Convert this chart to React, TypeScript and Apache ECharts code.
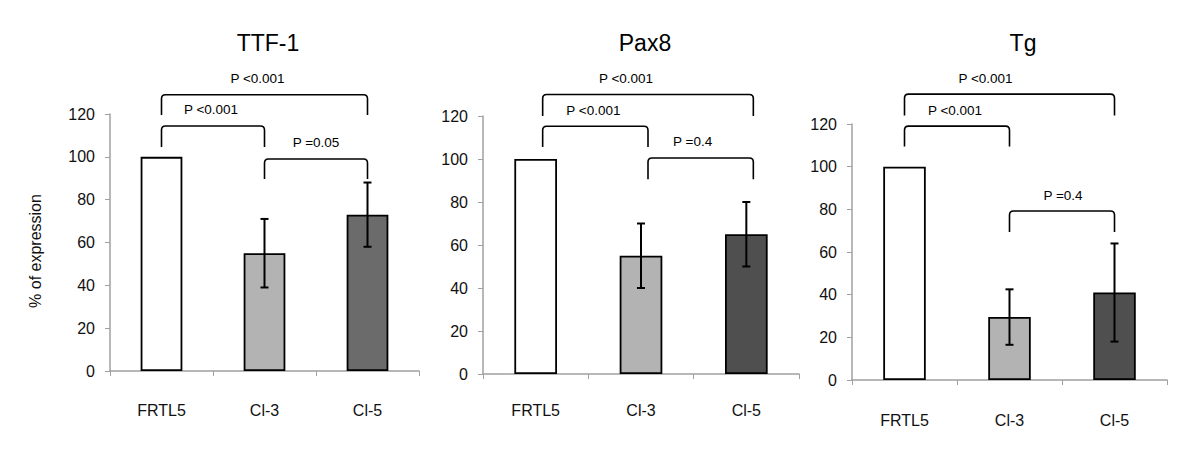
import React, { useEffect, useRef } from "react";
import * as echarts from "echarts";

// ---------- data ----------
const categories = ["FRTL5", "Cl-3", "Cl-5"];
const panelTitles = ["TTF-1", "Pax8", "Tg"];
const yAxisTitle = "% of expression";
const yMin = 0;
const yMax = 120;
const yInterval = 20;

const ttf1Mean = [100, 55, 73];
const ttf1Err = [0, 16, 15];
const pax8Mean = [100, 55, 65];
const pax8Err = [0, 15, 15];
const tgMean = [100, 29.5, 41];
const tgErr = [0, 13, 23];

// significance brackets: [fromCategory, toCategory, bracket top value, bracket end value]
const ttf1Brackets = [
  [0, 2, 129, 119.5],
  [0, 1, 114.4, 104.6],
  [1, 2, 99, 89.6],
];
const ttf1PLabels = ["P <0.001", "P <0.001", "P =0.05"];
const pax8Brackets = [
  [0, 2, 130, 120],
  [0, 1, 115.2, 105.6],
  [1, 2, 100.5, 90.6],
];
const pax8PLabels = ["P <0.001", "P <0.001", "P =0.4"];
const tgBrackets = [
  [0, 2, 134, 124],
  [0, 1, 119, 109.4],
  [1, 2, 79.2, 69.4],
];
const tgPLabels = ["P <0.001", "P <0.001", "P =0.4"];

const panelMeans = [ttf1Mean, pax8Mean, tgMean];
const panelErrs = [ttf1Err, pax8Err, tgErr];
const panelBrackets = [ttf1Brackets, pax8Brackets, tgBrackets];
const panelPLabels = [ttf1PLabels, pax8PLabels, tgPLabels];

// ---------- layout / style ----------
const FONT = "'Liberation Sans', Arial, sans-serif";
const grids = [
  { left: 110, top: 114, width: 309, height: 257 },
  { left: 483, top: 116, width: 316, height: 258 },
  { left: 852, top: 124, width: 315, height: 256 },
];
const titlePos = [
  [268, 43],
  [645, 43],
  [1023, 43],
];
const xLabelMargins = [31, 28, 32];
const bracketShift = [0, 7, 0];
const pLabelShift = [
  [-7, -2, 0],
  [-22, -2, -8],
  [-24, -2, 1],
];
const barColors = [
  ["#ffffff", "#b3b3b3", "#6b6b6b"],
  ["#ffffff", "#b3b3b3", "#4f4f4f"],
  ["#ffffff", "#b3b3b3", "#4f4f4f"],
];
const AXIS_COLOR = "#a0a0a0";

export default function App() {
  const ref = useRef<HTMLDivElement>(null);

  useEffect(() => {
    if (!ref.current) return;
    const chart = echarts.init(ref.current, undefined, { renderer: "svg" });

    const xAxes: any[] = [];
    const yAxes: any[] = [];
    const series: any[] = [];

    for (let i = 0; i < 3; i++) {
      xAxes.push({
        gridIndex: i,
        type: "category",
        data: categories,
        axisLine: { show: true, lineStyle: { color: AXIS_COLOR, width: 1.5 } },
        axisTick: { show: true, length: 5, lineStyle: { color: AXIS_COLOR, width: 1 } },
        axisLabel: { color: "#111", fontSize: 16, fontFamily: FONT, margin: xLabelMargins[i] },
      });
      yAxes.push({
        gridIndex: i,
        type: "value",
        min: yMin,
        max: yMax,
        interval: yInterval,
        axisLine: { show: true, lineStyle: { color: AXIS_COLOR, width: 1.5 } },
        axisTick: { show: true, length: 5, lineStyle: { color: AXIS_COLOR, width: 1 } },
        splitLine: { show: false },
        axisLabel: { color: "#111", fontSize: 16, fontFamily: FONT, margin: 15 },
      });

      const means = panelMeans[i];
      const errs = panelErrs[i];
      series.push({
        type: "bar",
        xAxisIndex: i,
        yAxisIndex: i,
        barWidth: "40.5%",
        data: means.map((v, j) => ({ value: v, itemStyle: { color: barColors[i][j] } })),
        itemStyle: { borderColor: "#000", borderWidth: 1.8 },
        z: 2,
      });

      series.push({
        type: "custom",
        xAxisIndex: i,
        yAxisIndex: i,
        z: 5,
        clip: false,
        encode: { x: 0, y: 1 },
        data: means.map((m, j) => [j, m, errs[j]]),
        renderItem: (params: any, api: any) => {
          const c = api.value(0);
          const m = api.value(1);
          const e = api.value(2);
          if (!e) return { type: "group", children: [] };
          const top = api.coord([c, m + e]);
          const bot = api.coord([c, m - e]);
          const x = top[0];
          const hw = 4;
          const st = { stroke: "#000", lineWidth: 2 };
          return {
            type: "group",
            children: [
              { type: "line", shape: { x1: x, y1: top[1], x2: x, y2: bot[1] }, style: st },
              { type: "line", shape: { x1: x - hw, y1: top[1], x2: x + hw, y2: top[1] }, style: st },
              { type: "line", shape: { x1: x - hw, y1: bot[1], x2: x + hw, y2: bot[1] }, style: st },
            ],
          };
        },
      });

      const brackets = panelBrackets[i];
      const labels = panelPLabels[i];
      series.push({
        type: "custom",
        xAxisIndex: i,
        yAxisIndex: i,
        z: 6,
        clip: false,
        encode: { x: 0, y: 3 },
        data: brackets,
        renderItem: (params: any, api: any) => {
          const from = api.value(0);
          const to = api.value(1);
          const topV = api.value(2);
          const endV = api.value(3);
          const p1 = api.coord([from, topV]);
          const p2 = api.coord([to, topV]);
          const pe = api.coord([from, endV]);
          const x1 = p1[0] + bracketShift[i];
          const x2 = p2[0] + bracketShift[i];
          const yT = p1[1];
          const yE = pe[1];
          const r = 4;
          const d = `M${x1} ${yE} L${x1} ${yT + r} Q${x1} ${yT} ${x1 + r} ${yT} L${x2 - r} ${yT} Q${x2} ${yT} ${x2} ${yT + r} L${x2} ${yE}`;
          return {
            type: "group",
            children: [
              { type: "path", shape: { pathData: d }, style: { stroke: "#000", fill: "none", lineWidth: 1.6 } },
              {
                type: "text",
                x: (x1 + x2) / 2 + pLabelShift[i][params.dataIndex],
                y: yT - 16,
                style: {
                  text: labels[params.dataIndex],
                  fontSize: 13.5,
                  fontFamily: FONT,
                  fill: "#000",
                  align: "center",
                  verticalAlign: "middle",
                },
              },
            ],
          };
        },
      });
    }

    const graphics: any[] = panelTitles.map((t, i) => ({
      type: "text",
      x: titlePos[i][0],
      y: titlePos[i][1],
      style: { text: t, fontSize: 23, fontFamily: FONT, fill: "#000", align: "center", verticalAlign: "middle" },
    }));
    graphics.push({
      type: "text",
      x: 35,
      y: 251,
      rotation: Math.PI / 2,
      style: { text: yAxisTitle, fontSize: 16, fontFamily: FONT, fill: "#111", align: "center", verticalAlign: "middle" },
    });

    chart.setOption({
      animation: false,
      backgroundColor: "#ffffff",
      grid: grids.map((g) => ({ ...g, containLabel: false })),
      xAxis: xAxes,
      yAxis: yAxes,
      series,
      graphic: graphics,
    });

    return () => chart.dispose();
  }, []);

  return (
    <div
      ref={ref}
      style={{ position: "fixed", left: 0, top: 0, width: 1200, height: 460, background: "#fff" }}
    />
  );
}
